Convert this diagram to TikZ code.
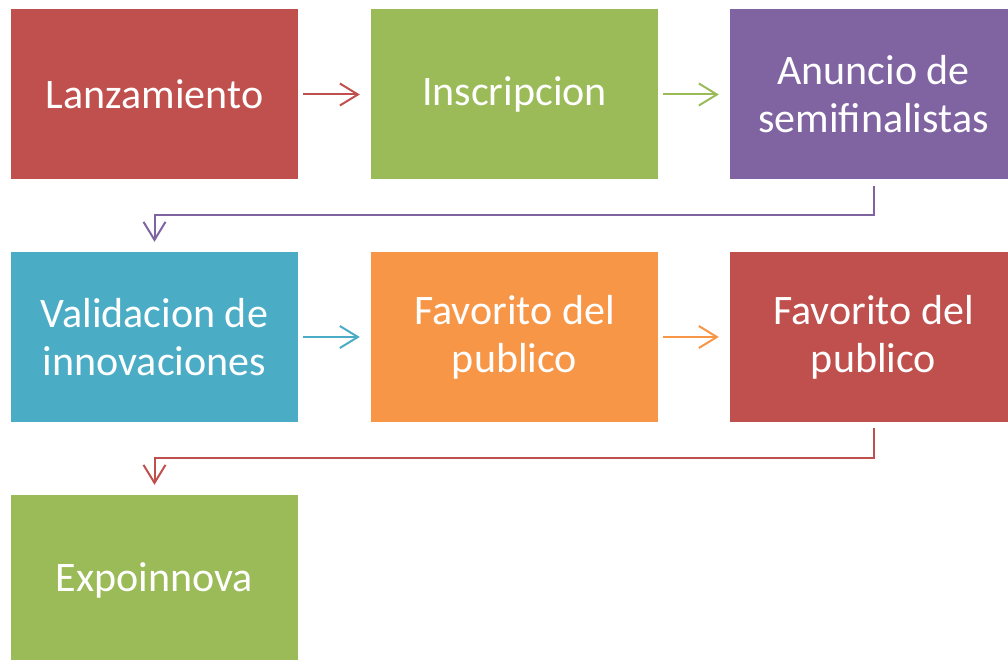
\documentclass[tikz,border=0pt]{standalone}
\usepackage{fontspec}
\setmainfont{Carlito}
\usetikzlibrary{arrows.meta}
\definecolor{cred}{HTML}{C0504D}
\definecolor{cgreen}{HTML}{9BBB59}
\definecolor{cpurple}{HTML}{8064A2}
\definecolor{caqua}{HTML}{4BACC6}
\definecolor{corange}{HTML}{F79646}
\tikzset{
  stagebox/.style={rectangle, minimum width=287pt, minimum height=170pt, inner sep=0pt,
    text=white, align=center, font=\fontsize{42pt}{48pt}\selectfont},
  flow/.style={line width=2pt, -{Straight Barb[length=18pt, width=22pt, line width=2pt]}},
}
\begin{document}
\begin{tikzpicture}[x=1pt, y=-1pt]
\useasboundingbox (0,0) rectangle (1008,660);
\clip (0,0) rectangle (1008,660);
\node[stagebox, fill=cred] (n1) at (154.5,94.5) {Lanzamiento};
\node[stagebox, fill=cgreen] (n2) at (514.5,94.5) {Inscripcion};
\node[stagebox, fill=cpurple] (n3) at (873.5,94.5) {Anuncio de\\semifinalistas};
\node[stagebox, fill=caqua] (n4) at (154.5,337) {Validacion de\\innovaciones};
\node[stagebox, fill=corange] (n5) at (514.5,337) {Favorito del\\publico};
\node[stagebox, fill=cred] (n6) at (873.5,337) {Favorito del\\publico};
\node[stagebox, fill=cgreen] (n7) at (154.5,580) {Expoinnova};
\draw[flow, cred, shorten <=5pt, shorten >=11pt] (n1.east) -- (n2.west);
\draw[flow, cgreen, shorten <=5pt, shorten >=11pt] (n2.east) -- (n3.west);
\draw[flow, cpurple, shorten <=6pt, shorten >=10pt] (n3.south) -- ++(0,35) -| (n4.north);
\draw[flow, caqua, shorten <=5pt, shorten >=11pt] (n4.east) -- (n5.west);
\draw[flow, corange, shorten <=5pt, shorten >=11pt] (n5.east) -- (n6.west);
\draw[flow, cred, shorten <=6pt, shorten >=10pt] (n6.south) -- ++(0,36) -| (n7.north);
\end{tikzpicture}
\end{document}
